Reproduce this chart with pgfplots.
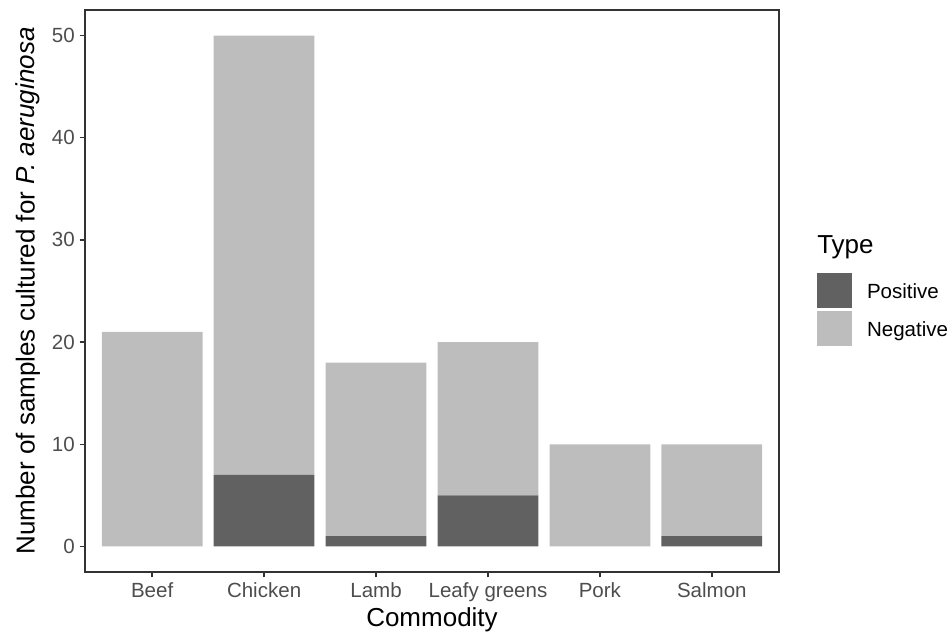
\documentclass[border=0pt]{standalone}
\usepackage{pgfplots}
\pgfplotsset{compat=1.18}
\usepackage{fontspec}
\setmainfont{Liberation Sans}
\definecolor{pos}{HTML}{616161}
\definecolor{neg}{HTML}{BDBDBD}
\definecolor{axc}{HTML}{333333}
\definecolor{tickc}{HTML}{4D4D4D}
\begin{document}
\begin{tikzpicture}
\path[use as bounding box] (0,0) rectangle (713.25pt,475.5pt);
\begin{axis}[
  at={(63.75pt,46.5pt)}, anchor=south west,
  scale only axis, width=520.5pt, height=421.5pt,
  xmin=0.4, xmax=6.6, ymin=-2.5, ymax=52.5,
  ybar stacked, bar width=0.9,
  xtick={1,2,3,4,5,6},
  xticklabels={Beef,Chicken,Lamb,Leafy greens,Pork,Salmon},
  ytick={0,10,20,30,40,50},
  axis line style={axc, line width=1.6pt},
  tick style={axc, line width=1.1pt},
  tick align=outside, major tick length=4.1pt,
  xtick pos=left, ytick pos=left,
  ticklabel style={font=\fontsize{15.4}{18}\selectfont, text=tickc},
  /pgf/number format/assume math mode=true,
  xlabel={Commodity},
  ylabel={Number of samples cultured for \textit{P. aeruginosa}},
  label style={font=\fontsize{19.5}{22}\selectfont},
  xlabel style={at={(axis description cs:0.5,-0.0854)}, anchor=center},
  ylabel style={at={(axis description cs:-0.0821,0.5)}, anchor=center},
  clip=false,
  legend style={draw=none, fill=none, at={(rel axis cs:1.0548,0.5338)}, anchor=north west,
    inner sep=0pt, outer sep=0pt, row sep=0pt, column sep=11.25pt,
    font=\fontsize{15.4}{18}\selectfont,
    nodes={inner sep=0pt, minimum height=28.5pt, text depth=0pt}},
  legend cell align=left,
  legend image code/.code={\fill[#1] (0pt,-13.125pt) rectangle (26.25pt,13.125pt);},
]
\addplot[fill=pos, draw=none] coordinates {(1,0) (2,7) (3,1) (4,5) (5,0) (6,1)};
\addlegendentry{Positive}
\addplot[fill=neg, draw=none] coordinates {(1,21) (2,43) (3,17) (4,15) (5,10) (6,9)};
\addlegendentry{Negative}
\node[anchor=base west, font=\fontsize{19.5}{22}\selectfont, inner sep=0pt] at (rel axis cs:1.0548,0.5676) {Type};
\end{axis}
\end{tikzpicture}
\end{document}
